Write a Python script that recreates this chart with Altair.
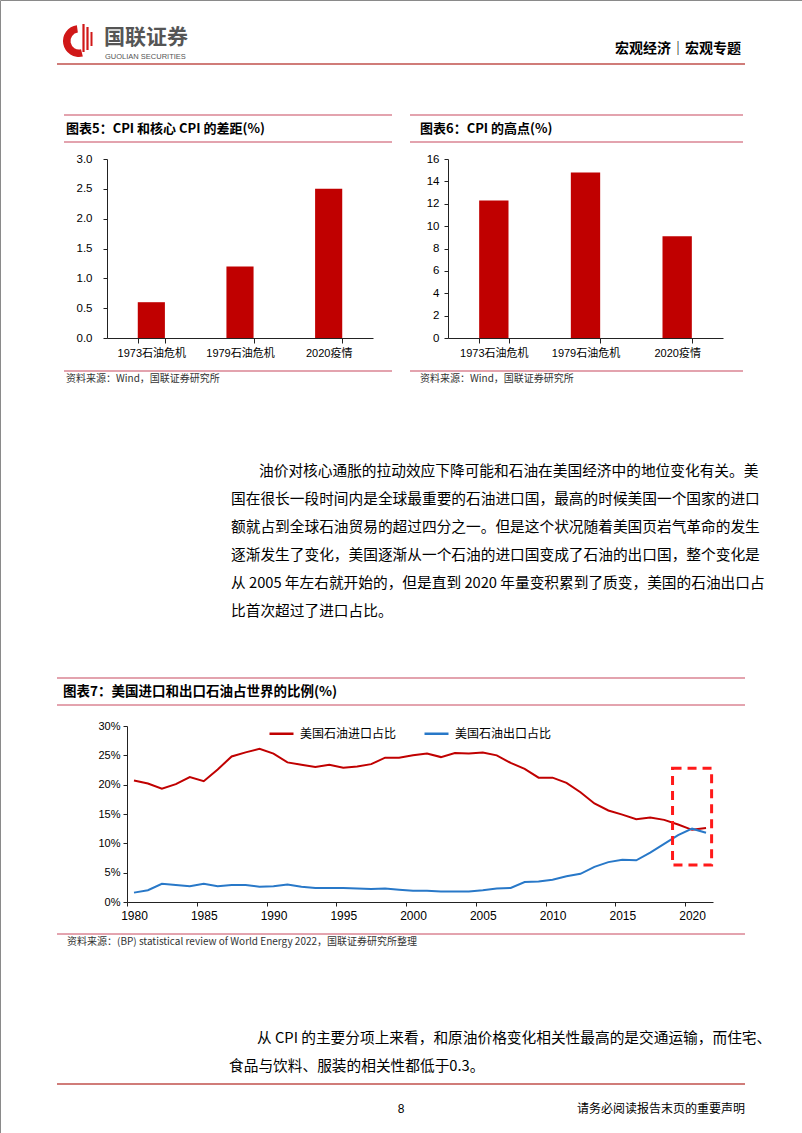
import altair as alt
import pandas as pd

W, H = 802, 1133
CJK = "Noto Sans CJK SC"
LAT = "Liberation Sans, Noto Sans CJK SC"
NARROW = "Liberation Sans Narrow, Liberation Sans, Arial"
BAR_RED = "#C00000"
LINE_RED = "#C00000"
LINE_BLUE = "#2878C8"
RULE_RED = "#C8485F"
AX = "#222222"

# ---------------- data ----------------
crisis = ["1973石油危机", "1979石油危机", "2020疫情"]
cpi_gap = [0.6, 1.2, 2.5]
cpi_peak = [12.3, 14.8, 9.1]

years = list(range(1980, 2022))
import_share = [20.7, 20.2, 19.3, 20.1, 21.3, 20.6, 22.6, 24.8, 25.5, 26.1,
                25.3, 23.8, 23.4, 23.0, 23.4, 22.9, 23.1, 23.5, 24.6, 24.6,
                25.0, 25.3, 24.7, 25.4, 25.3, 25.5, 25.0, 23.7, 22.7, 21.2,
                21.2, 20.3, 18.7, 16.8, 15.6, 14.9, 14.1, 14.4, 14.0, 13.2,
                12.3, 12.6]
export_share = [1.6, 2.0, 3.1, 2.9, 2.7, 3.1, 2.7, 2.9, 2.9, 2.6,
                2.7, 3.0, 2.6, 2.4, 2.4, 2.4, 2.3, 2.2, 2.3, 2.1,
                1.9, 1.9, 1.8, 1.8, 1.8, 2.0, 2.3, 2.4, 3.4, 3.5,
                3.8, 4.4, 4.8, 6.0, 6.8, 7.2, 7.1, 8.4, 9.9, 11.4,
                12.5, 11.8]
series_names = ["美国石油进口占比", "美国石油出口占比"]
box_years = [2018.6, 2021.4]
box_pct = [6.3, 22.8]

y5_ticks = [0, 0.5, 1.0, 1.5, 2.0, 2.5, 3.0]
y6_ticks = [0, 2, 4, 6, 8, 10, 12, 14, 16]
y7_ticks = [0, 5, 10, 15, 20, 25, 30]
x7_ticks = [1980, 1985, 1990, 1995, 2000, 2005, 2010, 2015, 2020]

para1 = [
    "油价对核心通胀的拉动效应下降可能和石油在美国经济中的地位变化有关。美",
    "国在很长一段时间内是全球最重要的石油进口国，最高的时候美国一个国家的进口",
    "额就占到全球石油贸易的超过四分之一。但是这个状况随着美国页岩气革命的发生",
    "逐渐发生了变化，美国逐渐从一个石油的进口国变成了石油的出口国，整个变化是",
    "从 2005 年左右就开始的，但是直到 2020 年量变积累到了质变，美国的石油出口占",
    "比首次超过了进口占比。",
]
para2 = [
    "从 CPI 的主要分项上来看，和原油价格变化相关性最高的是交通运输，而住宅、",
    "食品与饮料、服装的相关性都低于0.3。",
]

dummy = pd.DataFrame({"k": [0]})


def txt(s, x, y, size=12, weight="normal", color="#000000", align="left", font=CJK):
    return alt.Chart(dummy).mark_text(
        text=s, align=align, baseline="middle", fontSize=size,
        fontWeight=weight, color=color, font=font
    ).encode(x=alt.value(x), y=alt.value(y))


def hline(x1, x2, y, color=RULE_RED, w=1.2):
    return alt.Chart(dummy).mark_rule(color=color, strokeWidth=w).encode(
        x=alt.value(x1), x2=alt.value(x2), y=alt.value(y))


def vline(x, y1, y2, color, w):
    return alt.Chart(dummy).mark_rule(color=color, strokeWidth=w).encode(
        x=alt.value(x), y=alt.value(y1), y2=alt.value(y2))


def bar_chart(field, values, xr, y0, y1, dom, ticks, fmt, pad_in, lab_pad):
    df = pd.DataFrame({"cat_" + field: crisis, field: values})
    return alt.Chart(df).mark_bar(color=BAR_RED).encode(
        x=alt.X("cat_" + field + ":N", sort=crisis, title=None,
                scale=alt.Scale(type="band", range=xr, paddingInner=pad_in,
                                paddingOuter=pad_in / 2),
                axis=alt.Axis(orient="bottom", offset=y0 - H, labelAngle=0,
                              tickBand="extent", tickSize=5, labelPadding=4,
                              labelFont=LAT, labelFontSize=11, labelColor="#000",
                              domainColor=AX, tickColor=AX, grid=False)),
        y=alt.Y(field + ":Q", title=None,
                scale=alt.Scale(domain=dom, range=[y0, y1], nice=False, zero=True),
                axis=alt.Axis(orient="left", offset=-xr[0], values=ticks, format=fmt,
                              tickSize=4, labelPadding=lab_pad, labelFont="Liberation Sans",
                              labelFontSize=11.5, labelColor="#000",
                              domainColor=AX, tickColor=AX, grid=False)),
    )


c5 = bar_chart("gap", cpi_gap, [107, 373], 338, 159, [0, 3], y5_ticks, ".1f", 0.694, 11)
c6 = bar_chart("peak", cpi_peak, [448, 723], 338, 159, [0, 16], y6_ticks, "d", 0.68, 5)

# ---------------- chart 7 ----------------
df7 = pd.DataFrame({
    "year": years + years,
    "share": import_share + export_share,
    "series": [series_names[0]] * len(years) + [series_names[1]] * len(years),
})
x7_scale = alt.Scale(domain=[1979.5, 2021.5], range=[127, 713], nice=False, zero=False)
x7_axis = alt.Axis(orient="bottom", offset=902 - H, values=x7_ticks, format="d",
                   tickOffset=-7, labelOffset=7, tickSize=4, labelPadding=4,
                   labelFont=NARROW, labelFontSize=12, labelColor="#000",
                   domainColor=AX, tickColor=AX, grid=False)
y7_scale = alt.Scale(domain=[0, 30], range=[902, 726], nice=False, zero=True)
y7_axis = alt.Axis(orient="left", offset=-127, values=y7_ticks,
                   labelExpr="datum.value + '%'", tickSize=4, labelPadding=3,
                   labelFont=NARROW, labelFontSize=11, labelColor="#000",
                   domainColor=AX, tickColor=AX, grid=False)

lines7 = alt.Chart(df7).mark_line(strokeWidth=2).encode(
    x=alt.X("year:Q", scale=x7_scale, axis=x7_axis, title=None),
    y=alt.Y("share:Q", scale=y7_scale, axis=y7_axis, title=None),
    color=alt.Color("series:N", scale=alt.Scale(domain=series_names, range=[LINE_RED, LINE_BLUE]),
                    sort=series_names,
                    legend=alt.Legend(title=None, orient="none", legendX=268, legendY=720,
                                      direction="horizontal", symbolType="stroke",
                                      symbolSize=576, symbolStrokeWidth=2.5,
                                      labelFont=CJK, labelFontSize=12, labelColor="#000",
                                      labelOffset=5, columnPadding=22, padding=0)),
)
df_box = pd.DataFrame({"bx": [box_years[0]], "bx2": [box_years[1]],
                       "by": [box_pct[0]], "by2": [box_pct[1]]})
box7 = alt.Chart(df_box).mark_rect(fillOpacity=0, stroke="#FF1A1A", strokeWidth=3,
                                   strokeDash=[9, 6]).encode(
    x=alt.X("bx:Q", scale=x7_scale, axis=x7_axis, title=None),
    x2="bx2",
    y=alt.Y("by:Q", scale=y7_scale, axis=y7_axis, title=None),
    y2="by2",
)
c7 = alt.layer(lines7, box7)

# ---------------- page furniture ----------------
deco = []
# logo
deco.append(alt.Chart(dummy).mark_arc(theta=2.9, theta2=6.15, innerRadius=8.5, outerRadius=16,
                                      color="#D01818").encode(x=alt.value(79), y=alt.value(41)))
deco.append(vline(83.5, 24, 52, "#D01818", 2.2))
deco.append(vline(87.5, 27, 50, "#D01818", 2.2))
deco.append(vline(91.5, 32, 46, "#D01818", 2.0))
deco.append(txt("国联证券", 104, 38, size=21, weight="bold", color="#555555"))
deco.append(txt("GUOLIAN SECURITIES", 105, 56.5, size=7.5, color="#555555", font="Liberation Sans"))
deco.append(txt("宏观经济｜宏观专题", 741, 48.5, size=14, weight="bold", align="right"))
deco.append(hline(57, 745, 64, color="#C0504D", w=1.5))

# chart 5 / 6 frames
for x1, x2, tx, title in [(64, 392, 66, "图表5：CPI 和核心 CPI 的差距(%)"),
                          (410, 743, 420, "图表6：CPI 的高点(%)")]:
    deco.append(hline(x1, x2, 115))
    deco.append(txt(title, tx, 129, size=13, weight="bold"))
    deco.append(hline(x1, x2, 142))
    deco.append(hline(x1, x2, 371))
    deco.append(txt("资料来源：Wind，国联证券研究所", tx, 378.5, size=10, color="#333333"))

# paragraph 1
for i, s in enumerate(para1):
    deco.append(txt(s, 259 if i == 0 else 231, 472 + 28 * i, size=14.7))

# chart 7 frame
deco.append(hline(57, 745, 678))
deco.append(txt("图表7：美国进口和出口石油占世界的比例(%)", 63, 692, size=13.5, weight="bold"))
deco.append(hline(57, 745, 705, w=1))
deco.append(hline(57, 745, 934, w=1))
deco.append(txt("资料来源：(BP) statistical review of World Energy 2022，国联证券研究所整理",
                67, 942, size=10, color="#333333"))

# paragraph 2
deco.append(txt(para2[0], 257, 1039, size=14.7))
deco.append(txt(para2[1], 229, 1067, size=14.7))

# footer
deco.append(hline(57, 745, 1084, color="#C0504D", w=1.5))
deco.append(txt("8", 401, 1109, size=12, align="center", font="Liberation Sans"))
deco.append(txt("请务必阅读报告末页的重要声明", 745, 1109, size=12, align="right"))

chart = alt.layer(c5, c6, c7, *deco).resolve_scale(
    x="independent", y="independent", color="independent"
).properties(
    width=W, height=H, padding=0,
    autosize=alt.AutoSizeParams(type="none"),
    background="white",
).configure_view(stroke="#8a8a8a", strokeWidth=1)

chart.save("out.html", embed_options={"renderer": "svg", "actions": False})
